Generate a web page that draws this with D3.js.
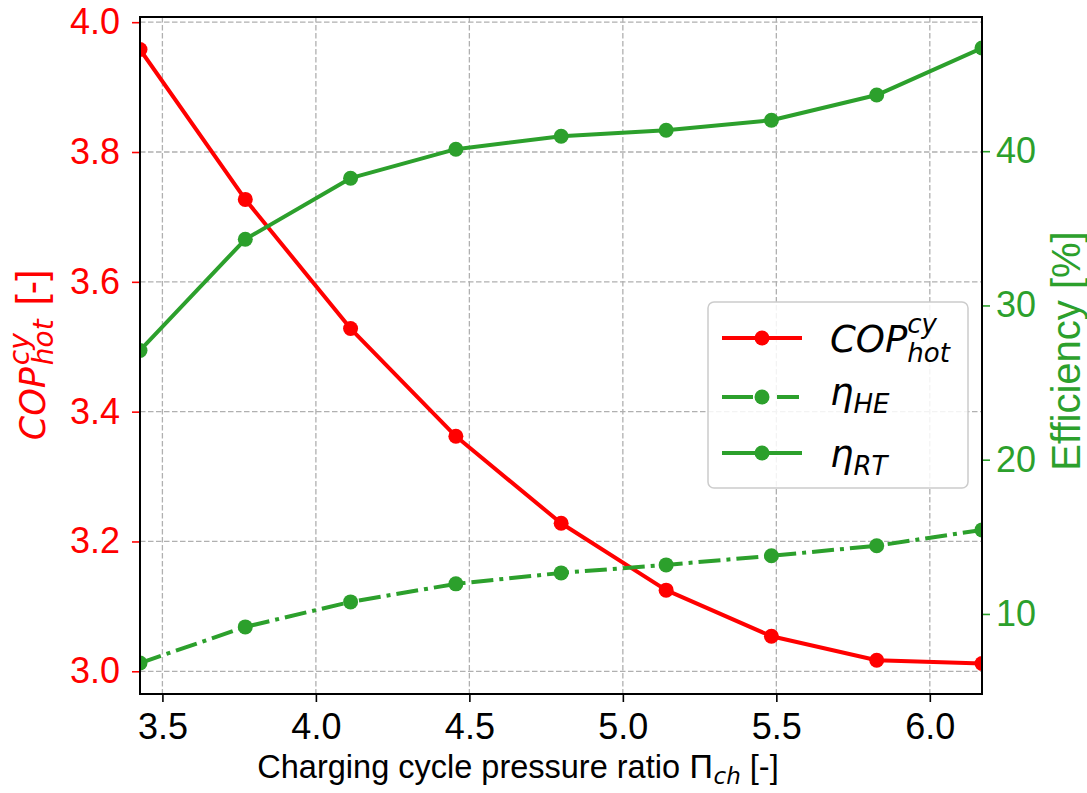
<!DOCTYPE html>
<html><head><meta charset="utf-8">
<script src="https://cdn.jsdelivr.net/npm/d3@7"></script>
<style>body{margin:0;background:#fff}</style>
</head><body><svg id="c" width="1087" height="793"></svg>
<script>
const pressureRatio = [3.427, 3.770, 4.113, 4.456, 4.799, 5.141, 5.484, 5.827, 6.170];
const copHot = [3.958, 3.727, 3.528, 3.362, 3.228, 3.125, 3.054, 3.017, 3.012];
const etaHE  = [6.82, 9.16, 10.78, 11.95, 12.66, 13.18, 13.77, 14.42, 15.45];
const etaRT  = [27.08, 34.29, 38.25, 40.13, 40.97, 41.36, 42.01, 43.64, 46.69];
const xTicks = [3.5, 4.0, 4.5, 5.0, 5.5, 6.0];
const copTicks = [3.0, 3.2, 3.4, 3.6, 3.8, 4.0];
const effTicks = [10, 20, 30, 40];

const RED = '#ff0000', GREEN = '#2ca02c';
const SANS = '"Liberation Sans", Arial, sans-serif';
const MATH = '"DejaVu Sans", sans-serif';
const L = 140, R = 982, T = 17, B = 694;
const TICKFONT = 36;

const svg = d3.select('#c');
svg.append('rect').attr('width',1087).attr('height',793).attr('fill','#fff');

const x = d3.scaleLinear().domain([3.427, 6.170]).range([L, R]);
const yL = d3.scaleLinear().domain([2.965, 4.008]).range([B, T]);
const yR = d3.scaleLinear().domain([4.81, 48.7]).range([B, T]);

svg.append('clipPath').attr('id','clip').append('rect')
  .attr('x',L).attr('y',T).attr('width',R-L).attr('height',B-T);

// grid
const grid = svg.append('g').attr('stroke','#b0b0b0').attr('stroke-width',1.3).attr('stroke-dasharray','5.5,2.5');
grid.selectAll('.vx').data(xTicks).enter().append('line')
  .attr('x1',d=>x(d)).attr('x2',d=>x(d)).attr('y1',T).attr('y2',B);
grid.selectAll('.hy').data(copTicks).enter().append('line')
  .attr('x1',L).attr('x2',R).attr('y1',d=>yL(d)).attr('y2',d=>yL(d));

// axes
function styleAxis(g, color, textColor) {
  g.select('.domain').remove();
  g.selectAll('.tick line').attr('stroke', color).attr('stroke-width', 1.6);
  g.selectAll('.tick text').attr('fill', textColor).attr('font-family', SANS).attr('font-size', TICKFONT);
}
const ax = svg.append('g').attr('transform',`translate(0,${B})`)
  .call(d3.axisBottom(x).tickValues(xTicks).tickFormat(d3.format('.1f')).tickSize(8).tickPadding(11));
styleAxis(ax, '#000', '#000');
const axL = svg.append('g').attr('transform',`translate(${L},0)`)
  .call(d3.axisLeft(yL).tickValues(copTicks).tickFormat(d3.format('.1f')).tickSize(8).tickPadding(12));
styleAxis(axL, RED, RED);
const axR = svg.append('g').attr('transform',`translate(${R},0)`)
  .call(d3.axisRight(yR).tickValues(effTicks).tickFormat(d3.format('d')).tickSize(8).tickPadding(6));
styleAxis(axR, GREEN, GREEN);

// series
const plot = svg.append('g').attr('clip-path','url(#clip)');
function series(vals, scale, color, dash) {
  const pts = vals.map((v,i)=>[x(pressureRatio[i]), scale(v)]);
  plot.append('path').attr('d', d3.line()(pts)).attr('fill','none')
    .attr('stroke', color).attr('stroke-width', 4)
    .attr('stroke-dasharray', dash || null).attr('stroke-linejoin','round');
  plot.append('g').selectAll('circle').data(pts).enter().append('circle')
    .attr('cx',d=>d[0]).attr('cy',d=>d[1]).attr('r',7.5).attr('fill',color);
}
series(copHot, yL, RED);
series(etaHE, yR, GREEN, '22,6,4,6');
series(etaRT, yR, GREEN);

// frame
svg.append('rect').attr('x',L).attr('y',T).attr('width',R-L).attr('height',B-T)
  .attr('fill','none').attr('stroke','#000').attr('stroke-width',2);

// rich text helper
function rich(parent, parts, color) {
  const g = parent.append('g');
  let cx = 0, lastStart = 0;
  parts.forEach(p => {
    const sx = (p.stack ? lastStart : cx) + (p.gap || 0);
    const t = g.append('text').attr('x', sx).attr('y', p.dy || 0)
      .attr('font-family', p.font).attr('font-size', p.size)
      .attr('font-style', p.italic ? 'italic' : 'normal').attr('fill', color)
      .attr('xml:space','preserve').style('white-space','pre').text(p.t);
    const w = t.node().getComputedTextLength();
    if (p.stack) cx = Math.max(cx, sx + w);
    else { lastStart = sx; cx = sx + w; }
  });
  return {g, width: cx};
}

// x label
{
  const o = svg.append('g').attr('transform','translate(518,778)');
  const r = rich(o, [
    {t:'Charging cycle pressure ratio ', font:SANS, size:32.5},
    {t:'Π', font:MATH, size:32.5},
    {t:'ch', font:MATH, size:23, italic:true, dy:6},
    {t:' [-]', font:SANS, size:32.5}
  ], '#000');
  r.g.attr('transform',`translate(${-r.width/2},0)`);
}
// left label
{
  const o = svg.append('g').attr('transform','translate(45,355) rotate(-90)');
  const r = rich(o, [
    {t:'COP', font:MATH, size:35, italic:true},
    {t:'cy', font:MATH, size:28, italic:true, dy:-16, gap:2},
    {t:'hot', font:MATH, size:28, italic:true, dy:8, stack:true},
    {t:' [-]', font:SANS, size:40, gap:3}
  ], RED);
  r.g.attr('transform',`translate(${-r.width/2},0)`);
}
// right label
{
  const o = svg.append('g').attr('transform','translate(1080,351) rotate(-90)');
  o.append('text').attr('text-anchor','middle').attr('font-family',SANS).attr('font-size',40)
    .attr('fill',GREEN).text('Efficiency [%]');
}

// legend
const legendNames = [
  [{t:'COP', font:MATH, size:37, italic:true},
   {t:'cy', font:MATH, size:26, italic:true, dy:-19},
   {t:'hot', font:MATH, size:26, italic:true, dy:10, stack:true}],
  [{t:'η', font:MATH, size:37, italic:true},
   {t:'HE', font:MATH, size:26, italic:true, dy:8}],
  [{t:'η', font:MATH, size:37, italic:true},
   {t:'RT', font:MATH, size:26, italic:true, dy:8}]
];
const legendColors = [RED, GREEN, GREEN];
const legendDash = [null, '31,24,22,10', null];
const lg = svg.append('g');
lg.append('rect').attr('x',708).attr('y',302).attr('width',260).attr('height',186).attr('rx',6)
  .attr('fill','#fff').attr('fill-opacity',0.85).attr('stroke','#cccccc').attr('stroke-width',1.5);
const rowY = [338, 397, 453];
const baseY = [352, 405, 467];
legendNames.forEach((parts, i) => {
  lg.append('line').attr('x1',722).attr('x2',802).attr('y1',rowY[i]).attr('y2',rowY[i])
    .attr('stroke',legendColors[i]).attr('stroke-width',4).attr('stroke-dasharray',legendDash[i]);
  lg.append('circle').attr('cx',762).attr('cy',rowY[i]).attr('r',7.5).attr('fill',legendColors[i]);
  const o = lg.append('g').attr('transform',`translate(830,${baseY[i]})`);
  rich(o, parts, '#000');
});
</script>
</body></html>
